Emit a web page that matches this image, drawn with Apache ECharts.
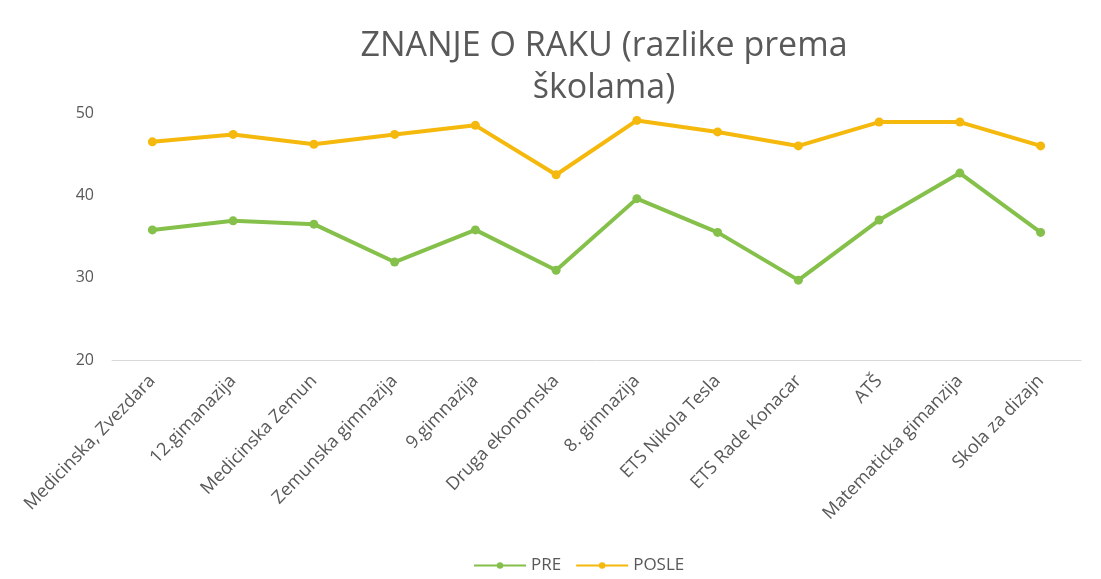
<!DOCTYPE html>
<html>
<head>
<meta charset="utf-8">
<script src="https://cdn.jsdelivr.net/npm/echarts@6/dist/echarts.min.js"></script>
<style>
  html, body { margin: 0; padding: 0; background: #fff; }
  #main { width: 1101px; height: 579px; }
</style>
</head>
<body>
<div id="main"></div>
<script>
// skole
var categories = ['Medicinska, Zvezdara', '12.gimanazija', 'Medicinska Zemun', 'Zemunska gimnazija',
  '9.gimnazija', 'Druga ekonomska', '8. gimnazija', 'ETS Nikola Tesla', 'ETS Rade Konacar',
  'ATŠ', 'Matematicka gimanzija', 'Skola za dizajn'];
var pre = [35.8, 36.9, 36.5, 31.9, 35.8, 30.9, 39.6, 35.5, 29.7, 37.0, 42.7, 35.5];
var posle = [46.5, 47.4, 46.2, 47.4, 48.5, 42.5, 49.1, 47.7, 46.0, 48.9, 48.9, 46.0];
var yTicks = [20, 30, 40, 50];

var txt = '#595959';
var font = 'Open Sans';

var option = {
  animation: false,
  title: {
    text: 'ZNANJE O RAKU (razlike prema\nškolama)',
    left: 599,
    textAlign: 'center',
    top: 20,
    textStyle: { fontFamily: font, fontWeight: 'normal', fontSize: 34, color: txt, lineHeight: 42 }
  },
  legend: {
    bottom: 0,
    left: 468,
    itemWidth: 52,
    itemHeight: 8,
    itemGap: 14,
    textStyle: { fontFamily: font, fontSize: 17, color: txt },
    data: ['PRE', 'POSLE']
  },
  grid: { left: 112, right: 20, top: 113, bottom: 219 },
  xAxis: {
    type: 'category',
    data: categories,
    axisLine: { lineStyle: { color: '#d9d9d9', width: 1 } },
    axisTick: { show: false },
    axisLabel: { rotate: 46, fontFamily: font, fontSize: 18, color: txt, margin: 18, interval: 0 }
  },
  yAxis: {
    type: 'value',
    min: yTicks[0],
    max: yTicks[yTicks.length - 1],
    interval: 10,
    axisLine: { show: false },
    axisTick: { show: false },
    splitLine: { show: false },
    axisLabel: { fontFamily: font, fontSize: 16, color: txt, margin: 18 }
  },
  series: [
    {
      name: 'PRE',
      type: 'line',
      data: pre,
      symbol: 'circle',
      symbolSize: 9,
      lineStyle: { color: '#84c04a', width: 4 },
      itemStyle: { color: '#84c04a' }
    },
    {
      name: 'POSLE',
      type: 'line',
      data: posle,
      symbol: 'circle',
      symbolSize: 9,
      lineStyle: { color: '#f5b80c', width: 4 },
      itemStyle: { color: '#f5b80c' }
    }
  ]
};

var myChart = echarts.init(document.getElementById('main'));
myChart.setOption(option);
</script>
</body>
</html>
